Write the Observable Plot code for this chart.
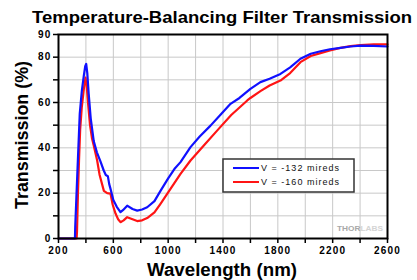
<!DOCTYPE html>
<html>
<head>
<meta charset="utf-8">
<script src="https://cdn.jsdelivr.net/npm/d3@7"></script>
<script src="https://cdn.jsdelivr.net/npm/@observablehq/plot@0.6"></script>
<style>
  html, body { margin: 0; padding: 0; background: #fff; }
  svg text { font-family: Arial, "Liberation Sans", sans-serif; }
  g[aria-label="x-axis tick label"] text, g[aria-label="y-axis tick label"] text { letter-spacing: 1.2px; font-weight: bold; }
</style>
</head>
<body>
<div id="chart"></div>
<script>
const title = "Temperature-Balancing Filter Transmission";
const xLabel = "Wavelength (nm)";
const yLabel = "Transmission (%)";
const seriesNames = ["V = -132 mireds", "V = -160 mireds"];
const seriesColors = ["#1010ff", "#ff1414"];

const xTicksMajor = [200, 600, 1000, 1400, 1800, 2200, 2600];
const xTicksMinor = [400, 800, 1200, 1600, 2000, 2400];
const yTicksMajor = [0, 20, 40, 60, 80, 90];
const yTicksMinor = [10, 30, 50, 70];
const xGrid = [400, 600, 800, 1000, 1200, 1400, 1600, 1800, 2000, 2200, 2400];
const yGrid = [10, 20, 30, 40, 50, 60, 70, 80];

const blueWl = [200, 320, 322, 335, 345, 355, 370, 385, 395, 402, 410, 420, 435, 457, 480, 506, 530, 545, 560, 570, 579, 600, 625, 652, 670, 701, 740, 774, 810, 847, 900, 944, 1000, 1050, 1090, 1163, 1230, 1309, 1380, 1455, 1520, 1600, 1673, 1740, 1819, 1890, 1965, 2040, 2111, 2180, 2257, 2330, 2403, 2500, 2600];
const blueT = [0, 0, 5, 25, 40, 55, 65, 72, 76, 77, 73, 64, 53, 43, 38, 34, 30, 28, 27.5, 24, 22, 17, 14, 11.6, 12.5, 14.5, 13, 12.3, 12.8, 13.8, 16.5, 21, 26.5, 31, 33.7, 40.3, 45, 49.8, 54.5, 59.4, 62, 66, 69, 70.5, 72.6, 75.5, 79.3, 81.5, 82.6, 83.5, 84.1, 84.7, 85.1, 85, 84.7];

const redWl = [200, 332, 335, 342, 350, 358, 370, 385, 397, 405, 415, 430, 445, 457, 482, 500, 531, 555, 579, 595, 616, 635, 652, 675, 701, 740, 774, 810, 847, 900, 944, 1017, 1090, 1163, 1260, 1357, 1460, 1577, 1600, 1673, 1740, 1819, 1890, 1965, 2040, 2111, 2180, 2257, 2330, 2403, 2500, 2600];
const redT = [0, 0, 3, 20, 35, 48, 58, 66, 71, 68, 60, 50, 44, 41, 34.4, 28, 21, 20, 19.8, 15, 11, 8.5, 7.2, 8, 9.4, 8.5, 7.7, 8, 9, 11.5, 15.3, 21.9, 28.5, 34.4, 41, 47.6, 54.5, 60.9, 62, 65, 67.5, 69.7, 73, 77.8, 80.5, 81.8, 83, 84.1, 84.9, 85.3, 85.6, 85.6];

const blue = blueWl.map((w, i) => ({w, t: blueT[i]}));
const red = redWl.map((w, i) => ({w, t: redT[i]}));

const W = 417, H = 280;
const mL = 58, mR = 30, mT = 34, mB = 42;

const svg = Plot.plot({
  width: W, height: H,
  marginLeft: mL, marginRight: mR, marginTop: mT, marginBottom: mB,
  style: {background: "#fff", color: "#000", fontFamily: "Arial, 'Liberation Sans', sans-serif"},
  x: {domain: [200, 2600], label: null},
  y: {domain: [0, 90], label: null},
  marks: [
    Plot.gridX(xGrid, {stroke: "#c8c8c8", strokeOpacity: 1, strokeWidth: 1}),
    Plot.gridY(yGrid, {stroke: "#c8c8c8", strokeOpacity: 1, strokeWidth: 1}),
    Plot.line(red, {x: "w", y: "t", stroke: seriesColors[1], strokeWidth: 2.2}),
    Plot.line(blue, {x: "w", y: "t", stroke: seriesColors[0], strokeWidth: 2.2}),
    Plot.frame({stroke: "#000", strokeWidth: 2}),
    Plot.axisX(xTicksMajor, {tickSize: 5, tickPadding: 3, fontSize: 10, fontWeight: "bold", label: null, strokeWidth: 1.5, tickFormat: d => String(d)}),
    Plot.axisX(xTicksMinor, {tickSize: 5, tickFormat: () => "", label: null, strokeWidth: 1.5}),
    Plot.axisY(yTicksMajor, {tickSize: 5, tickPadding: 2, fontSize: 10, fontWeight: "bold", label: null, strokeWidth: 1.5, tickFormat: d => String(d)}),
    Plot.axisY(yTicksMinor, {tickSize: 5, tickFormat: () => "", label: null, strokeWidth: 1.5})
  ]
});

const s = d3.select(svg);
const font = "Arial, 'Liberation Sans', sans-serif";

s.append("text").text(title)
  .attr("x", 222).attr("y", 22.5).attr("text-anchor", "middle")
  .attr("font-size", 16.5).attr("font-weight", "bold").attr("font-family", font)
  .attr("textLength", 380).attr("lengthAdjust", "spacingAndGlyphs").attr("fill", "#000");

s.append("text").text(xLabel)
  .attr("x", 222).attr("y", 276).attr("text-anchor", "middle")
  .attr("font-size", 18).attr("font-weight", "bold").attr("font-family", font)
  .attr("textLength", 150).attr("lengthAdjust", "spacingAndGlyphs").attr("fill", "#000");

s.append("text").text(yLabel)
  .attr("transform", "translate(28,135) rotate(-90)").attr("text-anchor", "middle")
  .attr("font-size", 18).attr("font-weight", "bold").attr("font-family", font)
  .attr("textLength", 148).attr("lengthAdjust", "spacingAndGlyphs").attr("fill", "#000");

// legend
const lg = s.append("g").attr("text-anchor", "start");
lg.append("rect").attr("x", 223).attr("y", 159).attr("width", 131).attr("height", 33)
  .attr("fill", "#fff").attr("stroke", "#333").attr("stroke-width", 1.5);
seriesNames.forEach((name, i) => {
  const yy = 168 + i * 14;
  lg.append("line").attr("x1", 233).attr("x2", 259).attr("y1", yy).attr("y2", yy)
    .attr("stroke", seriesColors[i]).attr("stroke-width", 2);
  lg.append("text").text(name).attr("x", 261).attr("y", yy + 3.3)
    .attr("text-anchor", "start")
    .attr("font-size", 9).attr("font-family", font).attr("fill", "#111")
    .attr("textLength", 78).attr("lengthAdjust", "spacing");
});

// watermark
const wm = s.append("text").attr("x", 337).attr("y", 231).attr("font-size", 7.5)
  .attr("text-anchor", "start")
  .attr("font-weight", "bold").attr("font-family", font)
  .attr("textLength", 46).attr("lengthAdjust", "spacingAndGlyphs");
wm.append("tspan").text("THOR").attr("fill", "#a8a8a8");
wm.append("tspan").text("LABS").attr("fill", "#d4d4d4");

document.getElementById("chart").appendChild(svg);
</script>
</body>
</html>
